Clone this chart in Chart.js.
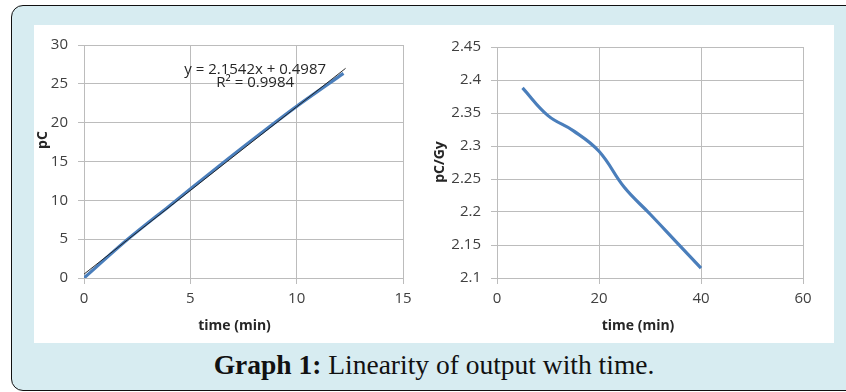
<!DOCTYPE html>
<html>
<head>
<meta charset="utf-8">
<script src="https://cdn.jsdelivr.net/npm/chart.js@4"></script>
<style>
  html, body { margin:0; padding:0; width:846px; height:392px; overflow:hidden; background:#ffffff; }
  #frame { position:absolute; left:11px; top:5px; width:900px; height:384px; border:1.5px solid #111; border-radius:12px; background:#d7ecf1; }
  #panel { position:absolute; left:34px; top:25px; width:800px; height:318px; background:#ffffff; }
  .cv { position:absolute; top:25px; width:400px; height:318px; }
  #c1 { left:34px; } #c2 { left:434px; }
  #caption { position:absolute; left:0; width:868px; top:350px; text-align:center; font-family:"Liberation Serif","DejaVu Serif",serif; font-size:27.5px; color:#111; line-height:30px; white-space:nowrap; }
  #caption b { font-weight:bold; }
</style>
</head>
<body>
<div id="frame"></div>
<div id="panel"></div>
<canvas id="c1" class="cv" width="400" height="318"></canvas>
<canvas id="c2" class="cv" width="400" height="318"></canvas>
<div id="caption"><b>Graph 1:</b> Linearity of output with time.</div>
<script>
// ---- data ----
const chargeTime = [0, 2, 4, 6, 8, 10, 12.2];
const chargeValues = [0, 4.85, 9.25, 13.65, 17.95, 22.1, 26.35];
const trendSlope = [2.1542];
const trendIntercept = [0.4987];
const trendRange = [0, 12.3];
const trendLabel = ["y = 2.1542x + 0.4987", "R² = 0.9984"];

const sensTime = [5, 10, 15, 20, 25, 30, 35, 40];
const sensValues = [2.388, 2.346, 2.323, 2.292, 2.237, 2.197, 2.156, 2.115];

const leftXTicks = [0, 5, 10, 15];
const leftYTicks = [0, 5, 10, 15, 20, 25, 30];
const rightXTicks = [0, 20, 40, 60];
const rightYTicks = [2.1, 2.15, 2.2, 2.25, 2.3, 2.35, 2.4, 2.45];

const xTitle = "time (min)";
const leftYTitle = "pC";
const rightYTitle = "pC/Gy";

// ---- styling ----
const FONT = '"Open Sans", "Liberation Sans", sans-serif';
const GRID = '#bcbcbc';
const TICKC = '#404040';
const BLUE = '#4a7ebb';

const titlePlugin = {
  id: 'axisTitleDraw',
  afterDraw(chart, args, o) {
    const ctx = chart.ctx, ca = chart.chartArea;
    ctx.save();
    ctx.fillStyle = '#262626';
    ctx.font = 'bold 14px ' + FONT;
    ctx.textAlign = 'center';
    ctx.textBaseline = 'middle';
    ctx.fillText(o.xText, (ca.left + ca.right) / 2 + o.xDx, o.xY);
    ctx.translate(o.yX, o.yY);
    ctx.rotate(-Math.PI / 2);
    ctx.fillText(o.yText, 0, 0);
    ctx.restore();
  }
};

const trendTextPlugin = {
  id: 'trendText',
  afterDatasetsDraw(chart, args, o) {
    if (!o || !o.lines) return;
    const ctx = chart.ctx;
    const xs = chart.scales.x, ys = chart.scales.y;
    ctx.save();
    ctx.fillStyle = '#262626';
    ctx.font = '15px ' + FONT;
    ctx.textAlign = 'center';
    ctx.textBaseline = 'middle';
    o.lines.forEach((t, i) => {
      ctx.fillText(t, xs.getPixelForValue(o.at[i][0]), ys.getPixelForValue(o.at[i][1]));
    });
    ctx.restore();
  }
};

function fmt(v) { return String(Number(v.toFixed(3))); }

function axis(min, max, ticksArr, size, isX) {
  return {
    type: 'linear', min, max,
    afterBuildTicks: s => { s.ticks = ticksArr.map(v => ({ value: v })); },
    afterFit: s => { if (isX) s.height = size; else s.width = size; },
    grid: { color: GRID, lineWidth: 1, tickLength: 6, drawTicks: true, tickColor: GRID },
    border: { color: GRID, width: 1 },
    ticks: { color: TICKC, font: { family: FONT, size: 15 }, padding: isX ? 6 : 10, callback: v => fmt(v), maxRotation: 0, autoSkip: false },
    title: { display: false }
  };
}

Chart.defaults.font.family = FONT;

new Chart(document.getElementById('c1'), {
  type: 'scatter',
  data: {
    datasets: [
      {
        label: 'trend',
        data: trendRange.map(x => ({ x, y: trendSlope[0] * x + trendIntercept[0] })),
        showLine: true, borderColor: 'rgba(25,25,25,0.9)', borderWidth: 1, pointRadius: 0, order: 0
      },
      {
        label: 'pC',
        data: chargeTime.map((x, i) => ({ x, y: chargeValues[i] })),
        showLine: true, borderColor: BLUE, borderWidth: 3.2, pointRadius: 0, tension: 0.3, order: 1
      }
    ]
  },
  options: {
    responsive: false, animation: false, devicePixelRatio: 1,
    layout: { padding: { left: 0, top: 20, right: 31, bottom: 0 } },
    plugins: {
      legend: { display: false }, tooltip: { enabled: false },
      axisTitleDraw: { xText: xTitle, xDx: -9, xY: 301, yText: leftYTitle, yX: 9, yY: 115 },
      trendText: { lines: trendLabel, at: [[8.05, 26.8], [8.05, 25.1]] }
    },
    scales: {
      x: axis(0, 15, leftXTicks, 65, true),
      y: axis(0, 30, leftYTicks, 50, false)
    }
  },
  plugins: [titlePlugin, trendTextPlugin]
});

new Chart(document.getElementById('c2'), {
  type: 'scatter',
  data: {
    datasets: [{
      label: 'pC/Gy',
      data: sensTime.map((x, i) => ({ x, y: sensValues[i] })),
      showLine: true, borderColor: BLUE, borderWidth: 3.2, pointRadius: 0, tension: 0.4
    }]
  },
  options: {
    responsive: false, animation: false, devicePixelRatio: 1,
    layout: { padding: { left: 0, top: 22, right: 31, bottom: 0 } },
    plugins: {
      legend: { display: false }, tooltip: { enabled: false },
      axisTitleDraw: { xText: xTitle, xDx: -12, xY: 301, yText: rightYTitle, yX: 6, yY: 137 }
    },
    scales: {
      x: axis(0, 60, rightXTicks, 65, true),
      y: axis(2.1, 2.45, rightYTicks, 63, false)
    }
  },
  plugins: [titlePlugin]
});
</script>
</body>
</html>
